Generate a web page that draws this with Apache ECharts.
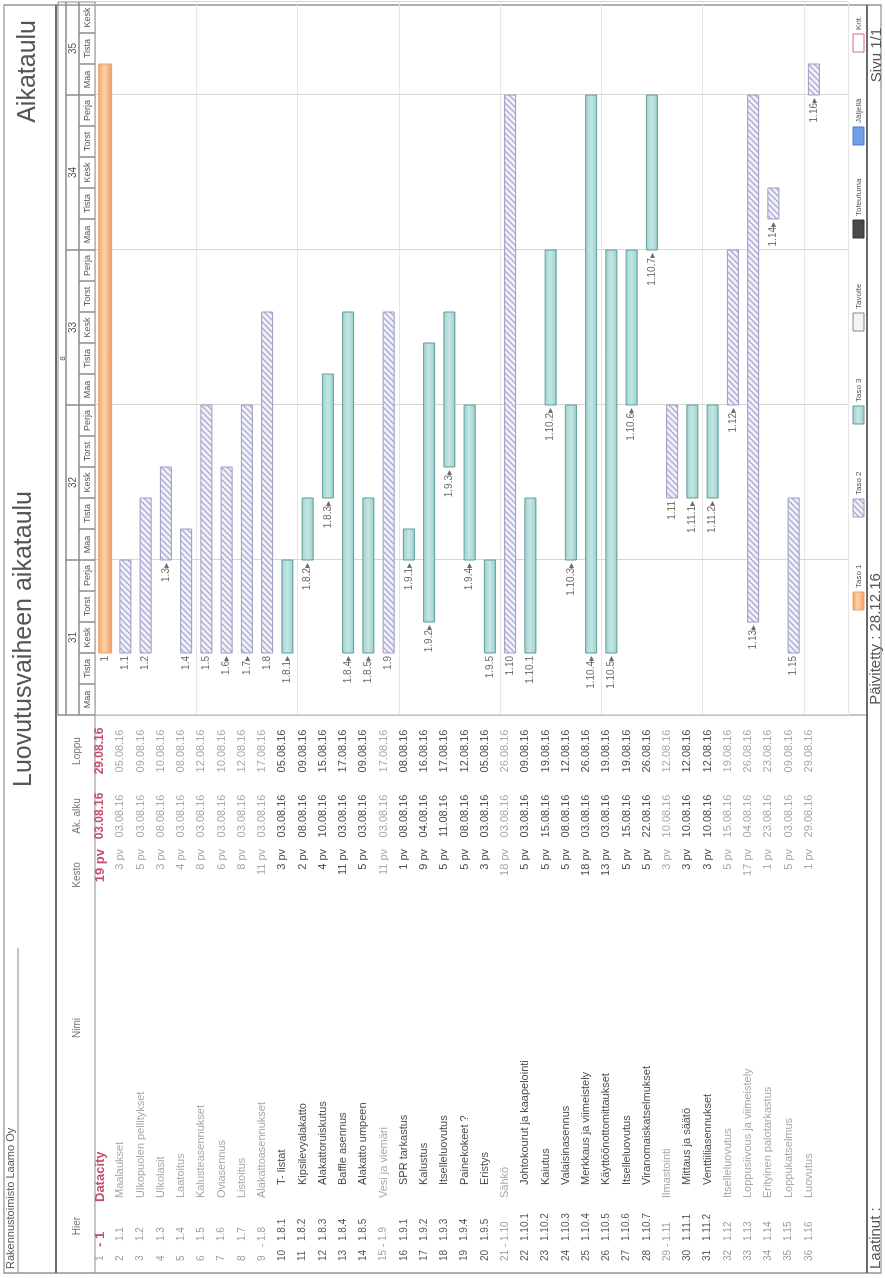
<!DOCTYPE html>
<html>
<head>
<meta charset="utf-8">
<title>Luovutusvaiheen aikataulu</title>
<script src="https://cdn.jsdelivr.net/npm/echarts@6/dist/echarts.min.js"></script>
<style>
html, body { margin: 0; padding: 0; background: #fff; overflow: hidden; }
#page { position: relative; width: 885px; height: 1278px; overflow: hidden; background: #fff; }
/* tuloste on käännetty 90 astetta vastapäivään */
#chart { position: absolute; left: 0; top: 0; width: 1278px; height: 885px;
  transform-origin: 0 0; transform: translateY(1278px) rotate(-90deg); }
</style>
</head>
<body>
<div id="page"><div id="chart"></div></div>
<script>
// rivien tiedot
var rowNums = [1,2,3,4,5,6,7,8,9,10,11,12,13,14,15,16,17,18,19,20,21,22,23,24,25,26,27,28,29,30,31,32,33,34,35,36];
var hierCodes = ['1','1.1','1.2','1.3','1.4','1.5','1.6','1.7','1.8','1.8.1','1.8.2','1.8.3','1.8.4','1.8.5',
  '1.9','1.9.1','1.9.2','1.9.3','1.9.4','1.9.5','1.10','1.10.1','1.10.2','1.10.3','1.10.4','1.10.5','1.10.6','1.10.7',
  '1.11','1.11.1','1.11.2','1.12','1.13','1.14','1.15','1.16'];
var taskNames = ['Datacity','Maalaukset','Ulkopuolen pellitykset','Ulkolasit','Laatoitus','Kalusteasennukset',
  'Oviasennus','Listoitus','Alakattoasennukset','T- listat','Kipsilevyalakatto','Alakattoruiskutus','Baffle asennus',
  'Alakatto umpeen','Vesi ja viemäri','SPR tarkastus','Kalustus','Itselleluovutus','Painekokeet ?','Eristys','Sähkö',
  'Johtokourut ja kaapelointi','Kaiutus','Valaisinasennus','Merkkaus ja viimeistely','Käyttöönottomittaukset',
  'Itselleluovutus','Viranomaiskatselmukset','Ilmastointi','Mittaus ja säätö','Venttiiliasennukset','Itselleluovutus',
  'Loppusiivous ja viimeistely','Erityinen palotarkastus','Loppukatselmus','Luovutus'];
var levels = [1,2,2,2,2,2,2,2,2,3,3,3,3,3,2,3,3,3,3,3,2,3,3,3,3,3,3,3,2,3,3,2,2,2,2,2];
var summaryRow = [1,0,0,0,0,0,0,0,1,0,0,0,0,0,1,0,0,0,0,0,1,0,0,0,0,0,0,0,1,0,0,0,0,0,0,0];
var durations = [19,3,5,3,4,8,6,8,11,3,2,4,11,5,11,1,9,5,5,3,18,5,5,5,18,13,5,5,3,3,3,5,17,1,5,1];
var startDates = ['03.08.16','03.08.16','03.08.16','08.08.16','03.08.16','03.08.16','03.08.16','03.08.16','03.08.16',
  '03.08.16','08.08.16','10.08.16','03.08.16','03.08.16','03.08.16','08.08.16','04.08.16','11.08.16','08.08.16',
  '03.08.16','03.08.16','03.08.16','15.08.16','08.08.16','03.08.16','03.08.16','15.08.16','22.08.16','10.08.16',
  '10.08.16','10.08.16','15.08.16','04.08.16','23.08.16','03.08.16','29.08.16'];
var endDates = ['29.08.16','05.08.16','09.08.16','10.08.16','08.08.16','12.08.16','10.08.16','12.08.16','17.08.16',
  '05.08.16','09.08.16','15.08.16','17.08.16','09.08.16','17.08.16','08.08.16','16.08.16','17.08.16','12.08.16',
  '05.08.16','26.08.16','09.08.16','19.08.16','12.08.16','26.08.16','19.08.16','19.08.16','26.08.16','12.08.16',
  '12.08.16','12.08.16','19.08.16','26.08.16','23.08.16','09.08.16','29.08.16'];
var barLabels = ['1','1.1','1.2','1.3▸','1.4','1.5','1.6▸','1.7▸','1.8','1.8.1▸','1.8.2▸','1.8.3▸','1.8.4▸','1.8.5▸',
  '1.9','1.9.1▸','1.9.2▸','1.9.3▸','1.9.4▸','1.9.5','1.10','1.10.1','1.10.2▸','1.10.3▸','1.10.4▸','1.10.5▸',
  '1.10.6▸','1.10.7▸','1.11','1.11.1▸','1.11.2▸','1.12▸','1.13▸','1.14▸','1.15','1.16▸'];

// aika-akselin otsikot
var monthLabel = '8';
var weekNums = ['31','32','33','34','35'];
var weekFirstDay = [0,5,10,15,20];
var weekLastDay = [5,10,15,20,23];
var dayNames = ['Maa','Tista','Kesk','Torst','Perja','Maa','Tista','Kesk','Torst','Perja','Maa','Tista','Kesk','Torst',
  'Perja','Maa','Tista','Kesk','Torst','Perja','Maa','Tista','Kesk'];

var legendNames = ['Taso 1','Taso 2','Taso 3','Tavoite','Toteutuma','Jäljellä','Krit.'];

var FONT = 'Liberation Sans, Arial, sans-serif';
var GRID_LEFT = 563, GRID_TOP = 95, GRID_W = 713, GRID_H = 753;
var ROWS_MAX = GRID_H / 20.25;

// pv.kk.vv -> arkipäivän indeksi (1.8.2016 = maanantai)
function dayIndex(s) {
  var d = parseInt(s.split('.')[0], 10) - 1;
  return Math.floor(d / 7) * 5 + (d % 7);
}

// vinoviivakuvio tason 2 palkeille
var hatch = document.createElement('canvas');
hatch.width = 6; hatch.height = 6;
(function () {
  var c = hatch.getContext('2d');
  c.fillStyle = '#f1f1f8'; c.fillRect(0, 0, 6, 6);
  c.strokeStyle = '#a9a9d2'; c.lineWidth = 1.3;
  c.beginPath();
  c.moveTo(0, 6); c.lineTo(6, 0);
  c.moveTo(-1, 1); c.lineTo(1, -1);
  c.moveTo(5, 7); c.lineTo(7, 5);
  c.stroke();
})();

var orangeFill = new echarts.graphic.LinearGradient(0, 0, 0, 1, [
  {offset: 0, color: '#f3a365'}, {offset: 0.45, color: '#fcd2ad'}, {offset: 1, color: '#f09a5a'}]);
var tealFill = new echarts.graphic.LinearGradient(0, 0, 0, 1, [
  {offset: 0, color: '#9fd3cf'}, {offset: 0.5, color: '#c4e6e3'}, {offset: 1, color: '#98cfcb'}]);

function textColor(i) {
  if (levels[i] === 1) return '#c64f6c';
  return levels[i] === 3 ? '#4a4a4a' : '#a6a6a6';
}

// taulukon sarakkeet
function renderTable(params, api) {
  var i = api.value(0);
  var y = api.coord([0, i + 0.5])[1] - 5;
  var c = textColor(i);
  var big = levels[i] === 1;
  var fs = big ? 13 : 11;
  var fw = big ? 'bold' : 'normal';
  var nameX = levels[i] === 1 ? 76 : (levels[i] === 2 ? 80 : 93);
  var hier = summaryRow[i] ? '- ' + hierCodes[i] : hierCodes[i];
  function t(x, str, align, size, weight, color) {
    return {type: 'text', style: {x: x, y: y, text: str, align: align, verticalAlign: 'middle',
      font: (weight || 'normal') + ' ' + (size || 11) + 'px ' + FONT, fill: color || c}};
  }
  return {type: 'group', children: [
    t(17, String(rowNums[i]), 'left', 10, 'normal', levels[i] === 3 ? '#555' : '#9c9c9c'),
    t(summaryRow[i] ? 31 : 37, hier, 'left', big ? 13 : 10, fw, big ? c : (levels[i] === 3 ? '#555' : '#9c9c9c')),
    t(nameX, taskNames[i], 'left', fs, fw),
    t(429, durations[i] + ' pv', 'right', fs, fw),
    t(462, startDates[i], 'center', big ? 12 : 11, fw),
    t(527, endDates[i], 'center', big ? 12 : 11, fw)
  ]};
}

// palkit
function renderBar(params, api) {
  var i = api.value(0);
  var s = api.coord([api.value(1), i + 0.5]);
  var e = api.coord([api.value(2), i + 0.5]);
  var lvl = levels[i];
  var h = lvl === 1 ? 13 : 11;
  var shape = {x: s[0], y: s[1] - h / 2, width: e[0] - s[0], height: h};
  var style;
  if (lvl === 1) style = {fill: orangeFill, stroke: '#eea36c', lineWidth: 1};
  else if (lvl === 2) style = {fill: {image: hatch, repeat: 'repeat'}, stroke: '#9a9ac6', lineWidth: 1};
  else style = {fill: tealFill, stroke: '#5f9c99', lineWidth: 1};
  return {type: 'group', children: [
    {type: 'rect', shape: shape, style: style},
    {type: 'text', style: {x: s[0] - 3, y: s[1], text: barLabels[i], align: 'right', verticalAlign: 'middle',
      font: '10px ' + FONT, fill: '#6a6a6a'}}
  ]};
}

// viikko- ja päiväotsikot
var HDR = {top: 58, week: 66, day: 79, bottom: GRID_TOP};
function renderMonth(params, api) {
  var a = api.coord([api.value(0), 0])[0], b = api.coord([api.value(1), 0])[0];
  return {type: 'group', children: [
    {type: 'rect', shape: {x: a, y: HDR.top, width: b - a, height: HDR.week - HDR.top},
      style: {fill: 'none', stroke: '#8c8c8c', lineWidth: 1}},
    {type: 'text', style: {x: (a + b) / 2, y: (HDR.top + HDR.week) / 2 + 0.5, text: monthLabel, align: 'center',
      verticalAlign: 'middle', font: '8px ' + FONT, fill: '#555'}}
  ]};
}
function renderWeek(params, api) {
  var a = api.coord([api.value(0), 0])[0], b = api.coord([api.value(1), 0])[0];
  return {type: 'group', children: [
    {type: 'rect', shape: {x: a, y: HDR.week, width: b - a, height: HDR.day - HDR.week},
      style: {fill: 'none', stroke: '#8c8c8c', lineWidth: 1}},
    {type: 'text', style: {x: (a + b) / 2, y: (HDR.week + HDR.day) / 2 + 0.5, text: weekNums[params.dataIndex],
      align: 'center', verticalAlign: 'middle', font: '10px ' + FONT, fill: '#555'}}
  ]};
}
function renderDay(params, api) {
  var a = api.coord([api.value(0), 0])[0], b = api.coord([api.value(0) + 1, 0])[0];
  return {type: 'group', children: [
    {type: 'rect', shape: {x: a, y: HDR.day, width: b - a, height: HDR.bottom - HDR.day},
      style: {fill: 'none', stroke: '#8c8c8c', lineWidth: 1}},
    {type: 'text', style: {x: (a + b) / 2, y: (HDR.day + HDR.bottom) / 2 + 0.5, text: dayNames[params.dataIndex],
      align: 'center', verticalAlign: 'middle', font: '9px ' + FONT, fill: '#555'}}
  ]};
}

// kehykset, otsikot ja selite
var graphics = [
  {type: 'rect', shape: {x: 5, y: 4, width: 1268, height: 877}, style: {fill: 'none', stroke: '#7a7a7a', lineWidth: 1.2}},
  {type: 'line', shape: {x1: 5, y1: 18, x2: 330, y2: 18}, style: {stroke: '#8a8a8a', lineWidth: 1}},
  {type: 'line', shape: {x1: 5, y1: 56, x2: 1273, y2: 56}, style: {stroke: '#6a6a6a', lineWidth: 2}},
  {type: 'line', shape: {x1: 5, y1: GRID_TOP, x2: GRID_LEFT, y2: GRID_TOP}, style: {stroke: '#8c8c8c', lineWidth: 1}},
  {type: 'line', shape: {x1: GRID_LEFT, y1: 56, x2: GRID_LEFT, y2: 866}, style: {stroke: '#8c8c8c', lineWidth: 1}},
  {type: 'line', shape: {x1: 5, y1: 867, x2: 1273, y2: 867}, style: {stroke: '#6a6a6a', lineWidth: 2}},
  {type: 'text', style: {x: 9, y: 11, text: 'Rakennustoimisto Laamo Oy', verticalAlign: 'middle',
    font: '11px ' + FONT, fill: '#555'}},
  {type: 'text', style: {x: 639, y: 24, text: 'Luovutusvaiheen aikataulu', align: 'center', verticalAlign: 'middle',
    font: '25px ' + FONT, fill: '#555'}},
  {type: 'text', style: {x: 1258, y: 28, text: 'Aikataulu', align: 'right', verticalAlign: 'middle',
    font: '25px ' + FONT, fill: '#555'}},
  {type: 'text', style: {x: 9, y: 876, text: 'Laatinut :', verticalAlign: 'middle', font: '15px ' + FONT, fill: '#555'}},
  {type: 'text', style: {x: 639, y: 876, text: 'Päivitetty : 28.12.16', align: 'center', verticalAlign: 'middle',
    font: '15px ' + FONT, fill: '#555'}},
  {type: 'text', style: {x: 1250, y: 877, text: 'Sivu 1/1', align: 'right', verticalAlign: 'middle',
    font: '15px ' + FONT, fill: '#555'}}
];
[
  {x: 'Hier', at: 52}, {x: 'Nimi', at: 250}, {x: 'Kesto', at: 403}, {x: 'Ak. alku', at: 462}, {x: 'Loppu', at: 527}
].forEach(function (h) {
  graphics.push({type: 'text', style: {x: h.at, y: 77, text: h.x, align: 'center', verticalAlign: 'middle',
    font: '10px ' + FONT, fill: '#777'}});
});
var legendFills = [orangeFill, {image: hatch, repeat: 'repeat'}, tealFill, '#f4f4f4', '#4a4a4a', '#6f9fe6', '#ffffff'];
var legendStrokes = ['#eea36c', '#9a9ac6', '#5f9c99', '#888', '#333', '#4a7fcf', '#d9668a'];
legendNames.forEach(function (n, k) {
  var x = 668 + k * 93;
  graphics.push({type: 'rect', shape: {x: x, y: 853, width: 18, height: 11},
    style: {fill: legendFills[k], stroke: legendStrokes[k], lineWidth: 1}});
  graphics.push({type: 'text', style: {x: x + 22, y: 858.5, text: n, verticalAlign: 'middle',
    font: '8px ' + FONT, fill: '#555'}});
});

var chart = echarts.init(document.getElementById('chart'), null, {width: 1278, height: 885});
chart.setOption({
  backgroundColor: '#fff',
  animation: false,
  grid: {left: GRID_LEFT, top: GRID_TOP, width: GRID_W, height: GRID_H},
  xAxis: {type: 'value', min: 0, max: dayNames.length, interval: 5, axisLine: {show: false},
    axisTick: {show: false}, axisLabel: {show: false}, splitLine: {lineStyle: {color: '#d6d6d6', width: 1}}},
  yAxis: {type: 'value', inverse: true, min: 0, max: ROWS_MAX, interval: 5, axisLine: {show: false},
    axisTick: {show: false}, axisLabel: {show: false}, splitLine: {lineStyle: {color: '#e6e6e6', width: 1}}},
  graphic: graphics,
  series: [
    {type: 'custom', name: 'kuukausi', renderItem: renderMonth, data: [[0, dayNames.length]], silent: true},
    {type: 'custom', name: 'viikot', renderItem: renderWeek,
      data: weekNums.map(function (w, k) { return [weekFirstDay[k], weekLastDay[k]]; }), silent: true},
    {type: 'custom', name: 'päivät', renderItem: renderDay,
      data: dayNames.map(function (d, k) { return [k]; }), silent: true},
    {type: 'custom', name: 'taulukko', renderItem: renderTable,
      data: taskNames.map(function (n, i) { return [i]; }), silent: true},
    {type: 'custom', name: 'palkit', renderItem: renderBar,
      data: taskNames.map(function (n, i) { return [i, dayIndex(startDates[i]), dayIndex(endDates[i]) + 1]; }),
      silent: true}
  ]
});
</script>
</body>
</html>
